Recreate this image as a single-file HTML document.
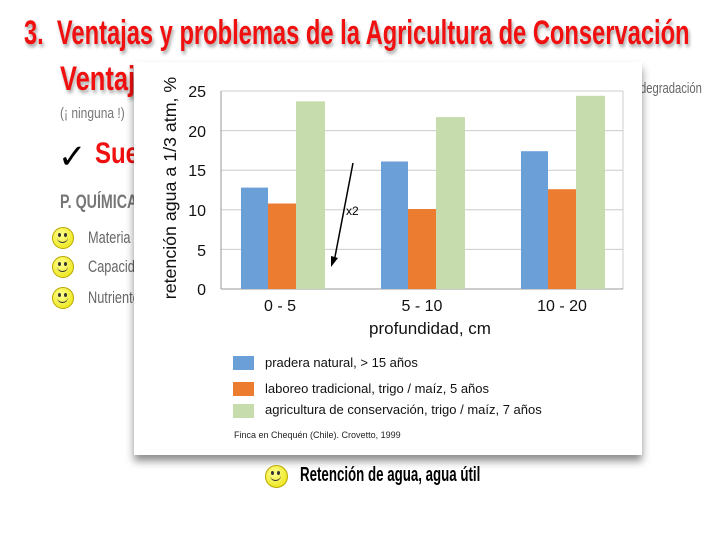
<!DOCTYPE html>
<html><head><meta charset="utf-8"><style>
body{margin:0;width:720px;height:540px;background:#fff;position:relative;overflow:hidden;font-family:"Liberation Sans",sans-serif}
.t{position:absolute;white-space:nowrap;font-family:"Liberation Sans Narrow","Liberation Sans",sans-serif}
.smile{position:absolute;width:20px;height:20px;border-radius:50%;background:radial-gradient(circle at 40% 35%,#ffff90,#e8e000);border:1px solid #b8a800}
.smile:before{content:"";position:absolute;left:5px;top:5px;width:3px;height:4px;background:#333;border-radius:50%;box-shadow:6px 0 0 #333}
.smile:after{content:"";position:absolute;left:4px;top:8px;width:11px;height:6px;border-bottom:1.5px solid #333;border-radius:0 0 8px 8px}
</style></head><body>
<div class="t" style="left:24px;top:14px;font-size:34px;font-weight:bold;color:#f01010;transform:scaleX(0.697);transform-origin:left;text-shadow:2px 3px 4px rgba(0,0,0,.35)">3.&nbsp; Ventajas y problemas de la Agricultura de Conservación</div>
<div class="t" style="left:60px;top:60px;font-size:34px;font-weight:bold;color:#f01010;transform:scaleX(0.75);transform-origin:left;text-shadow:2px 3px 4px rgba(0,0,0,.35)">Ventajas</div>
<div class="t" style="left:640px;top:80px;font-size:15px;color:#666;transform:scaleX(0.75);transform-origin:left">degradación</div>
<div class="t" style="left:60px;top:105px;font-size:15px;color:#777;transform:scaleX(0.8);transform-origin:left">(¡ ninguna !)</div>
<div class="t" style="left:58px;top:137px;font-size:34px;color:#000">✓</div>
<div class="t" style="left:95px;top:137px;font-size:30px;font-weight:bold;color:#f01010;transform:scaleX(0.8);transform-origin:left">Suelo</div>
<div class="t" style="left:60px;top:192px;font-size:19px;font-weight:bold;color:#777;transform:scaleX(0.75);transform-origin:left">P. QUÍMICA</div>
<div class="smile" style="left:52px;top:227px"></div><div class="t" style="left:88px;top:228px;font-size:17px;color:#666;transform:scaleX(0.75);transform-origin:left">Materia</div>
<div class="smile" style="left:52px;top:256px"></div><div class="t" style="left:88px;top:257px;font-size:17px;color:#666;transform:scaleX(0.75);transform-origin:left">Capacidad</div>
<div class="smile" style="left:52px;top:287px"></div><div class="t" style="left:88px;top:288px;font-size:17px;color:#666;transform:scaleX(0.75);transform-origin:left">Nutrientes</div>

<div style="position:absolute;left:134px;top:62px;width:508px;height:393px;background:#fff;box-shadow:0 6px 8px rgba(0,0,0,.45)"></div>
<svg style="position:absolute;left:0;top:0" width="720" height="540" font-family="Liberation Sans, sans-serif">
<g stroke="#ccc" stroke-width="1">
<line x1="221" y1="91" x2="623" y2="91"/><line x1="221" y1="130.6" x2="623" y2="130.6"/><line x1="221" y1="170.2" x2="623" y2="170.2"/><line x1="221" y1="209.8" x2="623" y2="209.8"/><line x1="221" y1="249.4" x2="623" y2="249.4"/>
<line x1="623" y1="91" x2="623" y2="289"/>
</g>
<line x1="221" y1="289" x2="623" y2="289" stroke="#999"/>
<line x1="221" y1="91" x2="221" y2="289" stroke="#999"/>
<g fill="#6a9fd8">
<rect x="241" y="187.6" width="27" height="101.4"/><rect x="381" y="161.5" width="27" height="127.5"/><rect x="521" y="151.2" width="27" height="137.8"/></g>
<g fill="#ec7c30">
<rect x="268" y="203.5" width="28" height="85.5"/><rect x="408" y="209" width="28" height="80"/><rect x="548" y="189.2" width="28" height="99.8"/></g>
<g fill="#c6dcad">
<rect x="296" y="101.3" width="29" height="187.7"/><rect x="436" y="117.1" width="29" height="171.9"/><rect x="576" y="95.8" width="29" height="193.2"/></g>
<g font-size="16" fill="#111" text-anchor="end">
<text x="206" y="97">25</text><text x="206" y="137">20</text><text x="206" y="176">15</text><text x="206" y="216">10</text><text x="206" y="256">5</text><text x="206" y="295">0</text></g>
<g font-size="16" fill="#111" text-anchor="middle">
<text x="280" y="311">0 - 5</text><text x="422" y="311">5 - 10</text><text x="562" y="311">10 - 20</text>
<text x="430" y="334" font-size="17">profundidad,  cm</text></g>
<text transform="translate(176,188) rotate(-90)" font-size="17.8" text-anchor="middle" fill="#111">retención agua a 1/3 atm,  %</text>
<line x1="353" y1="163" x2="334" y2="262" stroke="#000" stroke-width="1.5"/>
<polygon points="331,267 331,256 338,258" fill="#000"/>
<text x="346" y="215" font-size="12">x2</text>
<rect x="233" y="356" width="21" height="14" fill="#6a9fd8"/>
<rect x="233" y="382" width="21" height="14" fill="#ec7c30"/>
<rect x="233" y="404" width="21" height="14" fill="#c6dcad"/>
<g font-size="13" fill="#111"><text x="265" y="367">pradera natural, &gt; 15 años</text>
<text x="265" y="393">laboreo tradicional, trigo / maíz, 5 años</text>
<text x="265" y="414">agricultura de conservación, trigo / maíz, 7 años</text></g>
<text x="234" y="438" font-size="9" fill="#222">Finca en Chequén (Chile). Crovetto, 1999</text>
</svg>
<div class="smile" style="left:265px;top:465px;width:21px;height:21px"></div>
<div class="t" style="left:300px;top:464px;font-size:20px;font-weight:bold;color:#000;transform:scaleX(0.665);transform-origin:left">Retención de agua, agua útil</div>
</body></html>
